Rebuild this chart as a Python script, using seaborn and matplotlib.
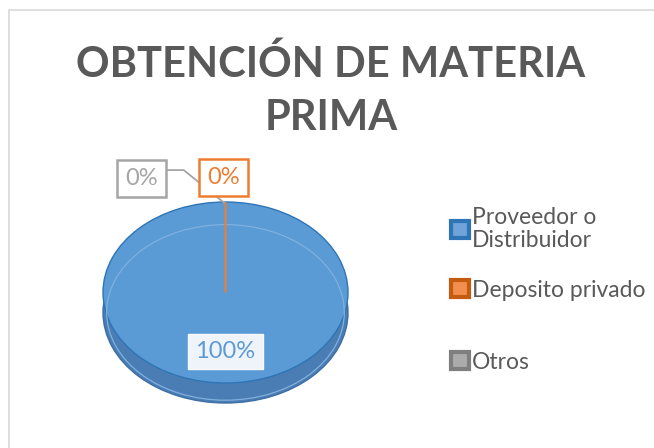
import textwrap

import matplotlib
matplotlib.use("Agg")
import matplotlib.pyplot as plt
import numpy as np
import seaborn as sns
from matplotlib.patches import Patch, Rectangle

# data
categories = ["Proveedor o Distribuidor", "Deposito privado", "Otros"]
values = [100, 0, 0]
label_text = ["100%", "0%", "0%"]

# styles
face_colors = ["#5B9BD5", "#ED7D31", "#A5A5A5"]
edge_colors = ["#2E75B6", "#ED7D31", "#7F7F7F"]
side_colors = ["#4A7DB3", "#B85F22", "#808080"]
legend_edge = ["#2E75B6", "#C55A11", "#7F7F7F"]
legend_face = ["#6FA3DA", "#F28E4E", "#ABABAB"]
text_grey = "#595959"

sns.set_theme(style="white")
plt.rcParams["font.family"] = ["Lato", "DejaVu Sans"]

W, H = 654, 448
fig = plt.figure(figsize=(W / 100, H / 100), dpi=100)
fig.patch.set_facecolor("white")

# chart area border (Excel style)
fig.patches.append(Rectangle((9 / W, -0.1), 1.0, (H - 10) / H + 0.1,
                             transform=fig.transFigure, fill=False,
                             edgecolor="#D9D9D9", linewidth=1.2))

# pie geometry in pixels
cx, cy, rx, ry, depth = 225.5, 292.5, 122.5, 90.5, 20
xlim = (-1.1, 1.1)
ylim = (-1.35, 1.05)
ax = fig.add_axes([(cx + xlim[0] * rx) / W, (H - cy + ylim[0] * ry) / H,
                   (xlim[1] - xlim[0]) * rx / W, (ylim[1] - ylim[0]) * ry / H])

# side of the 3D pie: stack of darker pies
for off in np.linspace(-depth / ry, 0, 30)[:-1]:
    ax.pie(values, colors=side_colors, startangle=90, counterclock=False,
           center=(0, off), wedgeprops=dict(linewidth=0))
bottom, _ = ax.pie(values, colors=["none"] * 3, startangle=90, counterclock=False,
                   center=(0, -depth / ry), wedgeprops=dict(linewidth=1.0))
bottom[0].set_edgecolor("#3E6FA5")
for w in bottom[1:]:
    w.set_visible(False)

# top face
wedges, _ = ax.pie(values, colors=face_colors, startangle=90, counterclock=False,
                   wedgeprops=dict(linewidth=1.0))
for w, ec in zip(wedges, edge_colors):
    w.set_edgecolor(ec)
wedges[1].set_linewidth(1.5)
wedges[1].set_zorder(3)
wedges[2].set_visible(False)

# bevel ring on top face
ring, _ = ax.pie([sum(values)], colors=["none"], radius=0.97, center=(0, -0.22),
                 startangle=90, wedgeprops=dict(edgecolor="#7FB0DF", linewidth=0.9,
                                                facecolor="none"))
ring[0].set_clip_path(wedges[0])

ax.set_aspect("auto")
ax.set_xlim(*xlim)
ax.set_ylim(*ylim)
ax.axis("off")

# data labels
ax.text(0, -0.655, label_text[0], ha="center", va="center", fontsize=17,
        color="#5B9BD5", zorder=5,
        bbox=dict(boxstyle="square,pad=0.3", facecolor="#EFF4FA", edgecolor="#F7F9FC"))
ax.text(-0.016, 1.27, label_text[1], ha="center", va="center", fontsize=17,
        color=face_colors[1], zorder=5,
        bbox=dict(boxstyle="square,pad=0.33", facecolor="white",
                  edgecolor=face_colors[1], linewidth=1.8))
ax.annotate(label_text[2], xy=(-0.01, 0.99), xytext=(-0.686, 1.26),
            ha="center", va="center", fontsize=17, color=face_colors[2],
            annotation_clip=False, zorder=4,
            bbox=dict(boxstyle="square,pad=0.33", facecolor="white",
                      edgecolor=face_colors[2], linewidth=1.8),
            arrowprops=dict(arrowstyle="-", color=face_colors[2], lw=1.3,
                            relpos=(1, 0.9), shrinkA=0, shrinkB=0,
                            connectionstyle="angle,angleA=0,angleB=-39,rad=0"))

# title
fig.text(331 / W, 1 - 91 / H, "OBTENCIÓN DE MATERIA\nPRIMA", ha="center", va="center",
         fontsize=30, fontweight="bold", color=text_grey, linespacing=1.5)

# legend, one entry per block like Excel spaces them
labels = [textwrap.fill(c, 16) for c in categories]
legend_y = [229, 290, 362]
for f, e, lab, yc in zip(legend_face, legend_edge, labels, legend_y):
    h = Patch(facecolor=f, edgecolor=e, linewidth=3)
    leg = fig.legend([h], [lab], loc="center left", bbox_to_anchor=(451 / W, 1 - yc / H),
                     frameon=False, fontsize=16.5, labelcolor=text_grey,
                     handlelength=0.8, handleheight=0.8, handletextpad=0.12,
                     borderpad=0, borderaxespad=0)
    for t in leg.get_texts():
        t.set_linespacing(1.1)

fig.savefig("out.png", dpi=100)
